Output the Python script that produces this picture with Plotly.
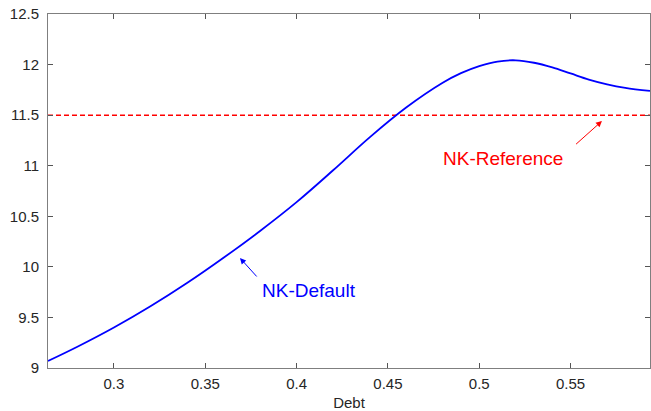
import plotly.graph_objects as go

debt = [0.2639, 0.28, 0.30, 0.32, 0.34, 0.36, 0.38, 0.40, 0.42, 0.44, 0.46, 0.48,
        0.49, 0.50, 0.51, 0.52, 0.53, 0.54, 0.55, 0.56, 0.57, 0.58, 0.5935]
nk_default = [9.069, 9.21, 9.40, 9.61, 9.84, 10.09, 10.355, 10.64, 10.955, 11.28, 11.575, 11.82,
              11.915, 11.985, 12.03, 12.042, 12.018, 11.972, 11.912, 11.852, 11.805, 11.77, 11.739]
ref_x = [0.2639, 0.5935]
nk_reference = [11.5, 11.5]

x_ticks = [0.3, 0.35, 0.4, 0.45, 0.5, 0.55]
x_tick_labels = ["0.3", "0.35", "0.4", "0.45", "0.5", "0.55"]
y_ticks = [9, 9.5, 10, 10.5, 11, 11.5, 12, 12.5]
y_tick_labels = ["9", "9.5", "10", "10.5", "11", "11.5", "12", "12.5"]

fig = go.Figure()
fig.add_trace(go.Scatter(x=ref_x, y=nk_reference, mode="lines",
                         line=dict(color="#ff0000", width=1.5, dash="5px,3px"),
                         showlegend=False))
fig.add_trace(go.Scatter(x=debt, y=nk_default, mode="lines",
                         line=dict(color="#0000ff", width=1.8, shape="spline", smoothing=1.0),
                         showlegend=False))

font = "Liberation Sans, Arial, Helvetica, sans-serif"
axis_common = dict(showline=True, linecolor="#7f7f7f", linewidth=1, mirror="ticks",
                   ticks="inside", ticklen=5, tickcolor="#555555", showgrid=False,
                   zeroline=False, automargin=False,
                   tickfont=dict(family=font, size=15, color="#262626"))

fig.update_layout(
    width=651, height=411,
    margin=dict(l=48, r=1, t=14, b=43),
    plot_bgcolor="white", paper_bgcolor="white",
    xaxis=dict(range=[0.2639, 0.5935], tickvals=x_ticks, ticktext=x_tick_labels,
               ticklabelstandoff=2,
               title=dict(text="Debt", font=dict(family=font, size=15, color="#262626"), standoff=7),
               **axis_common),
    yaxis=dict(range=[9, 12.5], tickvals=y_ticks, ticktext=y_tick_labels,
               ticklabelstandoff=5, **axis_common),
    annotations=[
        dict(x=0.5672, y=11.442, ax=0.5522, ay=11.20, xref="x", yref="y", axref="x", ayref="y",
             text="", showarrow=True, arrowhead=2, arrowsize=1.2, arrowwidth=1, arrowcolor="#ff0000"),
        dict(x=0.513, y=11.07, xref="x", yref="y", text="NK-Reference", showarrow=False,
             font=dict(family=font, size=19, color="#ff0000")),
        dict(x=0.369, y=10.088, ax=0.3789, ay=9.89, xref="x", yref="y", axref="x", ayref="y",
             text="", showarrow=True, arrowhead=2, arrowsize=1.2, arrowwidth=1, arrowcolor="#0000ff"),
        dict(x=0.4068, y=9.77, xref="x", yref="y", text="NK-Default", showarrow=False,
             font=dict(family=font, size=19, color="#0000ff")),
    ],
)

fig.write_html("out.html", config={"displayModeBar": False},
               post_script="document.body.style.margin='0';document.body.style.overflow='hidden';")
